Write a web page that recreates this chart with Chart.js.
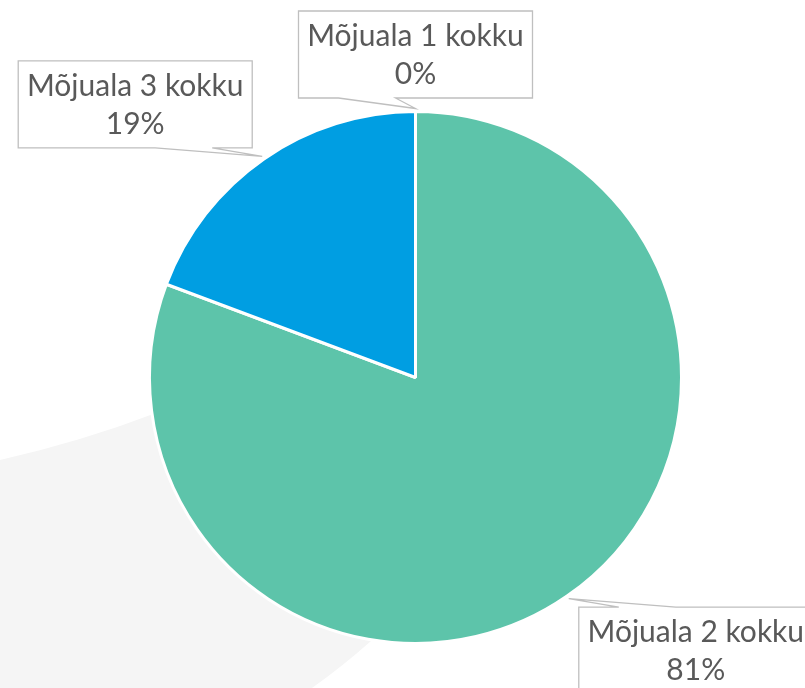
<!DOCTYPE html>
<html>
<head>
<meta charset="utf-8">
<script src="https://cdn.jsdelivr.net/npm/chart.js@4"></script>
<style>
  html, body { margin: 0; padding: 0; background: #ffffff; }
  #wrap { width: 805px; height: 688px; position: relative; }
</style>
</head>
<body>
<div id="wrap"><canvas id="pie-chart"></canvas></div>
<script>
// Andmed
const labels = ['Mõjuala 1 kokku', 'Mõjuala 2 kokku', 'Mõjuala 3 kokku'];
const values = [0, 80.7, 19.3];
const colors = ['#a5a5a5', '#5dc4aa', '#009ee2'];

// kasti keskpunkt noole otsa suhtes
const boxOffsets = [[0, -54], [127, 52], [-127, -52]];

// hall taustakujund all vasakul
const bgShape = {
  id: 'bgShape',
  beforeDatasetsDraw(chart) {
    const ctx = chart.ctx;
    ctx.save();
    ctx.fillStyle = '#f5f5f5';
    ctx.beginPath();
    ctx.moveTo(0, 460);
    ctx.quadraticCurveTo(80, 442, 156, 413);
    ctx.lineTo(300, 500);
    ctx.lineTo(371, 641);
    ctx.quadraticCurveTo(343, 666, 312, 688);
    ctx.lineTo(0, 688);
    ctx.closePath();
    ctx.fill();
    ctx.restore();
  }
};

// väljaviikudega sildid
const callouts = {
  id: 'callouts',
  afterDatasetsDraw(chart) {
    const ctx = chart.ctx;
    const meta = chart.getDatasetMeta(0);
    const total = values.reduce((a, b) => a + b, 0);
    const w = 234, h = 87;
    ctx.save();
    meta.data.forEach((arc, i) => {
      const p = arc.getProps(['x', 'y', 'startAngle', 'endAngle', 'outerRadius'], true);
      const mid = (p.startAngle + p.endAngle) / 2;
      const r = p.outerRadius + 3;
      const tx = p.x + Math.cos(mid) * r;
      const ty = p.y + Math.sin(mid) * r;
      const cx = tx + boxOffsets[i][0];
      const cy = ty + boxOffsets[i][1];
      const left = cx - w / 2, right = cx + w / 2, top = cy - h / 2, bottom = cy + h / 2;
      const s = tx > cx + 1 ? 1 : -1;
      const b1 = cx + s * 20, b2 = cx + s * 77;
      const bl = Math.min(b1, b2), br = Math.max(b1, b2);

      ctx.beginPath();
      if (ty > cy) {
        // nool alumisel serval
        ctx.moveTo(left, top);
        ctx.lineTo(right, top);
        ctx.lineTo(right, bottom);
        ctx.lineTo(br, bottom);
        ctx.lineTo(tx, ty);
        ctx.lineTo(bl, bottom);
        ctx.lineTo(left, bottom);
      } else {
        // nool ülemisel serval
        ctx.moveTo(left, top);
        ctx.lineTo(bl, top);
        ctx.lineTo(tx, ty);
        ctx.lineTo(br, top);
        ctx.lineTo(right, top);
        ctx.lineTo(right, bottom);
        ctx.lineTo(left, bottom);
      }
      ctx.closePath();
      ctx.fillStyle = '#ffffff';
      ctx.fill();
      ctx.strokeStyle = '#bfbfbf';
      ctx.lineWidth = 1.3;
      ctx.stroke();

      ctx.fillStyle = '#595959';
      ctx.font = '30px Lato, "Liberation Sans", sans-serif';
      ctx.textAlign = 'center';
      ctx.textBaseline = 'middle';
      ctx.fillText(labels[i], cx, cy - 18);
      ctx.fillText(Math.round(values[i] / total * 100) + '%', cx, cy + 20);
    });
    ctx.restore();
  }
};

const pieChart = new Chart(document.getElementById('pie-chart'), {
  type: 'pie',
  data: {
    labels: labels,
    datasets: [{
      data: values,
      backgroundColor: colors,
      borderColor: '#ffffff',
      borderWidth: 3
    }]
  },
  options: {
    responsive: true,
    maintainAspectRatio: false,
    animation: false,
    layout: { padding: { left: 148, right: 122, top: 110, bottom: 43 } },
    plugins: {
      legend: { display: false },
      tooltip: { enabled: false }
    }
  },
  plugins: [bgShape, callouts]
});
</script>
</body>
</html>
